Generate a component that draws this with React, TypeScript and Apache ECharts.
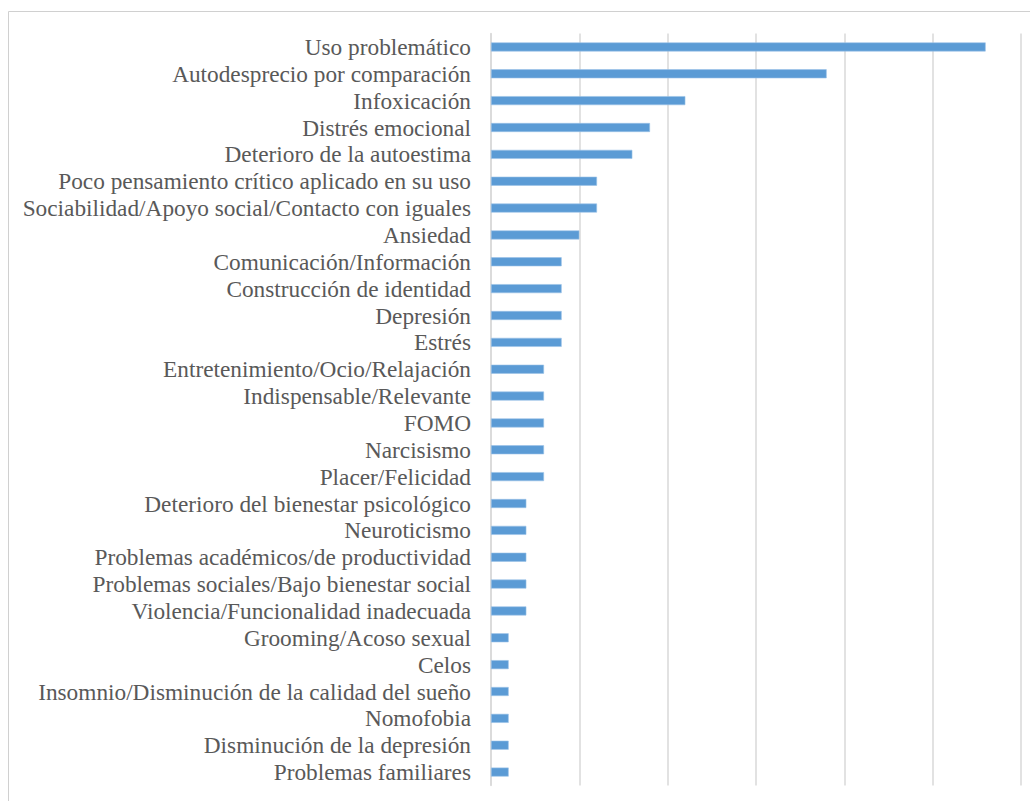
import React, { useEffect, useRef } from "react";
import * as echarts from "echarts";

const categories = [
  "Uso problemático",
  "Autodesprecio por comparación",
  "Infoxicación",
  "Distrés emocional",
  "Deterioro de la autoestima",
  "Poco pensamiento crítico aplicado en su uso",
  "Sociabilidad/Apoyo social/Contacto con iguales",
  "Ansiedad",
  "Comunicación/Información",
  "Construcción de identidad",
  "Depresión",
  "Estrés",
  "Entretenimiento/Ocio/Relajación",
  "Indispensable/Relevante",
  "FOMO",
  "Narcisismo",
  "Placer/Felicidad",
  "Deterioro del bienestar psicológico",
  "Neuroticismo",
  "Problemas académicos/de productividad",
  "Problemas sociales/Bajo bienestar social",
  "Violencia/Funcionalidad inadecuada",
  "Grooming/Acoso sexual",
  "Celos",
  "Insomnio/Disminución de la calidad del sueño",
  "Nomofobia",
  "Disminución de la depresión",
  "Problemas familiares",
];

const values = [
  28, 19, 11, 9, 8, 6, 6, 5, 4, 4, 4, 4, 3, 3, 3, 3, 3, 2, 2, 2, 2, 2, 1, 1, 1, 1, 1, 1,
];

export default function App() {
  const ref = useRef<HTMLDivElement>(null);
  useEffect(() => {
    if (!ref.current) return;
    const chart = echarts.init(ref.current, undefined, { renderer: "svg" });
    chart.setOption({
      animation: false,
      backgroundColor: "#ffffff",
      graphic: [
        {
          type: "rect",
          shape: { x: 8.5, y: 11.5, width: 1100, height: 1000 },
          style: { fill: "none", stroke: "#d0d0d0", lineWidth: 1 },
          silent: true,
          z: 0,
        },
      ],
      grid: { left: 491, right: 9, top: 33.5, bottom: 15.5, containLabel: false },
      xAxis: {
        type: "value",
        min: 0,
        max: 30,
        interval: 5,
        axisLabel: { show: false },
        axisTick: { show: false },
        axisLine: { show: false },
        splitLine: { show: true, lineStyle: { color: "#d9d9d9", width: 1.5 } },
      },
      yAxis: {
        type: "category",
        inverse: true,
        data: categories,
        axisTick: { show: false },
        axisLine: { show: true, lineStyle: { color: "#d9d9d9", width: 1.5 } },
        axisLabel: {
          interval: 0,
          hideOverlap: false,
          margin: 20,
          color: "#595959",
          fontFamily: "Liberation Serif, Times New Roman, serif",
          fontSize: 23.3,
        },
      },
      series: [
        {
          type: "bar",
          data: values,
          barWidth: 9,
          itemStyle: { color: "#5b9bd5", borderColor: "#9cc3e8", borderWidth: 0.6 },
        },
      ],
    });
    return () => chart.dispose();
  }, []);
  return (
    <div
      ref={ref}
      style={{ position: "fixed", left: 0, top: 0, width: 1030, height: 801 }}
    />
  );
}
